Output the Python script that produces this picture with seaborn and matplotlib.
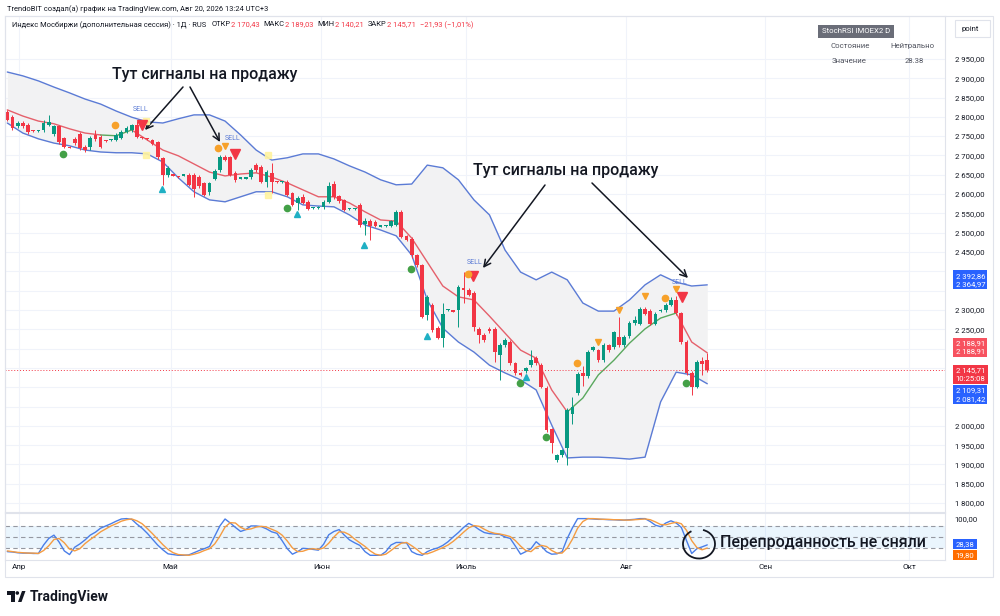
import numpy as np
import matplotlib
matplotlib.use("Agg")
import matplotlib.pyplot as plt
import seaborn as sns
from matplotlib.patches import Rectangle, Arc, Polygon, Ellipse

# --- daily candles (weekend sessions included) ---
opens = [2813, 2800, 2775, 2785, 2780, 2765, 2763, 2765, 2780, 2755,
         2775, 2745, 2722, 2742, 2755, 2722, 2722, 2752, 2748, 2738,
         2740, 2740, 2745, 2760, 2765, 2778, 2746, 2744, 2740, 2735,
         2693, 2650, 2650, 2646, 2648, 2650, 2650, 2645, 2628, 2605,
         2640, 2662, 2695, 2695, 2655, 2640, 2640, 2645, 2675, 2670,
         2632, 2655, 2632, 2630, 2632, 2603, 2578, 2592, 2580, 2564,
         2564, 2566, 2580, 2625, 2594, 2585, 2561, 2562, 2572, 2522,
         2530, 2528, 2516, 2517, 2518, 2520, 2553, 2492, 2485, 2442,
         2416, 2287, 2313, 2254, 2228, 2300, 2298, 2300, 2357, 2352,
         2345, 2252, 2236, 2250, 2252, 2183, 2209, 2217, 2162, 2136,
         2141, 2157, 2175, 2157, 2098, 1991, 1911, 1924, 1942, 2030,
         2085, 2138, 2128, 2196, 2196, 2170, 2209, 2204, 2230, 2209,
         2232, 2266, 2264, 2303, 2298, 2264, 2298, 2300, 2313, 2326,
         2292, 2217, 2138, 2100, 2167, 2170.43]
highs = [2818, 2805, 2790, 2790, 2783, 2767, 2767, 2792, 2805, 2780,
         2780, 2748, 2724, 2748, 2760, 2728, 2750, 2765, 2752, 2740,
         2743, 2758, 2765, 2776, 2782, 2790, 2748, 2746, 2742, 2738,
         2697, 2672, 2652, 2648, 2652, 2655, 2655, 2650, 2632, 2632,
         2664, 2700, 2700, 2698, 2660, 2642, 2644, 2668, 2680, 2675,
         2662, 2680, 2634, 2634, 2636, 2606, 2595, 2600, 2584, 2566,
         2568, 2584, 2632, 2635, 2598, 2588, 2563, 2565, 2578, 2537,
         2535, 2532, 2518, 2520, 2533, 2560, 2560, 2495, 2490, 2446,
         2420, 2340, 2318, 2258, 2318, 2303, 2300, 2365, 2398, 2356,
         2350, 2256, 2240, 2256, 2256, 2214, 2228, 2222, 2166, 2140,
         2153, 2196, 2180, 2162, 2103, 1995, 1928, 1941, 2045, 2075,
         2140, 2155, 2196, 2207, 2200, 2214, 2213, 2246, 2282, 2234,
         2272, 2285, 2308, 2307, 2303, 2295, 2302, 2318, 2333, 2336,
         2296, 2222, 2142, 2170, 2178, 2189.03]
lows = [2788, 2765, 2770, 2770, 2755, 2761, 2761, 2762, 2777, 2750,
        2730, 2718, 2718, 2728, 2715, 2708, 2715, 2738, 2718, 2736,
        2738, 2737, 2742, 2757, 2762, 2745, 2742, 2741, 2728, 2692,
        2624, 2645, 2647, 2642, 2646, 2620, 2593, 2615, 2595, 2598,
        2636, 2658, 2685, 2647, 2632, 2638, 2638, 2640, 2658, 2628,
        2618, 2603, 2628, 2628, 2595, 2568, 2560, 2575, 2558, 2562,
        2562, 2562, 2576, 2588, 2578, 2556, 2559, 2560, 2516, 2494,
        2482, 2514, 2514, 2515, 2515, 2517, 2486, 2478, 2434, 2410,
        2278, 2274, 2244, 2224, 2204, 2297, 2294, 2256, 2318, 2335,
        2245, 2215, 2218, 2240, 2165, 2119, 2205, 2158, 2132, 2128,
        2138, 2153, 2158, 2097, 1985, 1929, 1906, 1920, 1898, 2005,
        2080, 2103, 2125, 2193, 2166, 2166, 2192, 2200, 2205, 2205,
        2228, 2262, 2260, 2286, 2260, 2260, 2296, 2296, 2310, 2288,
        2213, 2132, 2080, 2097, 2132, 2140.21]
closes = [2792, 2770, 2785, 2775, 2760, 2763, 2765, 2785, 2787, 2775,
          2735, 2722, 2720, 2732, 2720, 2715, 2745, 2742, 2722, 2737,
          2741, 2753, 2760, 2772, 2778, 2748, 2744, 2743, 2730, 2695,
          2650, 2668, 2648, 2644, 2650, 2624, 2612, 2620, 2598, 2628,
          2660, 2695, 2688, 2650, 2637, 2640, 2642, 2662, 2662, 2632,
          2658, 2630, 2630, 2632, 2598, 2572, 2590, 2578, 2562, 2564,
          2566, 2580, 2622, 2592, 2582, 2560, 2561, 2563, 2520, 2530,
          2518, 2518, 2516, 2518, 2530, 2553, 2490, 2481, 2442, 2416,
          2282, 2334, 2248, 2228, 2290, 2300, 2296, 2359, 2352, 2339,
          2255, 2235, 2222, 2246, 2191, 2209, 2222, 2162, 2136, 2132,
          2149, 2170, 2162, 2101, 1989, 1955, 1924, 1937, 2041, 2050,
          2135, 2128, 2191, 2203, 2170, 2209, 2196, 2242, 2209, 2230,
          2267, 2274, 2303, 2290, 2264, 2290, 2300, 2313, 2326, 2292,
          2217, 2136, 2100, 2165, 2160, 2145.71]

# bands and trend line, read every 3rd bar
band_bars = list(range(0, 136, 3))
band_upper = [2916, 2906, 2893, 2877, 2862, 2846, 2833, 2815, 2799, 2787,
              2784, 2795, 2805, 2805, 2789, 2753, 2714, 2688, 2694, 2704,
              2704, 2691, 2673, 2657, 2637, 2624, 2626, 2675, 2668, 2637,
              2585, 2546, 2455, 2398, 2378, 2398, 2378, 2318, 2297, 2297,
              2326, 2365, 2391, 2372, 2362, 2365]
band_lower = [2784, 2758, 2743, 2732, 2725, 2714, 2709, 2707, 2707, 2704,
              2683, 2642, 2606, 2585, 2580, 2593, 2606, 2606, 2593, 2572,
              2569, 2567, 2546, 2520, 2507, 2492, 2442, 2326, 2253, 2217,
              2191, 2157, 2137, 2119, 2093, 2002, 1917, 1919, 1919, 1917,
              1914, 1919, 2062, 2139, 2132, 2109]
trend_line = [2818, 2802, 2789, 2782, 2769, 2758, 2753, 2751, 2766, 2740,
              2714, 2699, 2678, 2657, 2647, 2652, 2655, 2644, 2629, 2611,
              2593, 2593, 2577, 2554, 2533, 2530, 2486, 2424, 2362, 2334,
              2326, 2284, 2240, 2196, 2175, 2093, 2036, 2072, 2132, 2170,
              2214, 2251, 2279, 2292, 2217, 2189]
green_ranges = [(18, 24), (108, 129)]

# StochRSI K / D
stoch_k = [10, 9, 7, 6, 6, 5, 5, 28, 46, 55,
           36, 12, 2, 22, 31, 42, 55, 63, 74, 80,
           86, 93, 99, 100, 98, 85, 74, 60, 44, 28,
           15, 4, 2, 0, 0, 1, 7, 13, 18, 24,
           52, 80, 99, 88, 76, 65, 70, 80, 80, 78,
           72, 64, 60, 40, 18, 3, 10, 19, 18, 16,
           14, 30, 56, 65, 70, 55, 42, 34, 27, 10,
           0, 0, 0, 10, 28, 35, 35, 34, 10, 3,
           0, 10, 16, 20, 27, 37, 50, 62, 76, 87,
           80, 70, 62, 59, 58, 57, 50, 46, 25, 3,
           10, 18, 37, 25, 10, 3, 4, 10, 46, 75,
           100, 100, 100, 99, 98, 98, 97, 97, 96, 96,
           97, 98, 100, 100, 92, 82, 78, 88, 94, 88,
           76, 40, 5, 18, 23, 28.38]
stoch_d = [12, 10, 8, 7, 6, 6, 5, 13, 26, 43,
           46, 34, 17, 12, 18, 32, 43, 53, 64, 72,
           80, 86, 93, 97, 99, 94, 86, 73, 59, 44,
           29, 16, 7, 2, 1, 0, 3, 7, 13, 18,
           31, 52, 77, 89, 88, 76, 70, 72, 77, 79,
           77, 71, 65, 55, 39, 20, 10, 11, 16, 18,
           16, 20, 33, 50, 64, 63, 56, 44, 34, 24,
           12, 3, 0, 3, 13, 24, 33, 35, 26, 16,
           4, 4, 9, 15, 21, 28, 38, 50, 63, 75,
           81, 79, 71, 64, 60, 58, 55, 51, 40, 25,
           13, 10, 22, 27, 24, 13, 6, 6, 20, 44,
           74, 92, 100, 100, 99, 98, 98, 97, 97, 96,
           96, 97, 98, 99, 97, 91, 84, 83, 87, 90,
           86, 68, 40, 21, 15, 19.8]

# signal markers
sell_bars = [26.0, 43.9, 89.8, 130.1]
sell_prices = [2779, 2704, 2388, 2334]
sell_text_bars = [25.8, 43.5, 90.2, 129.7]
sell_text_prices = [2818, 2745, 2424, 2370]
orange_dot_bars = [20.8, 40.6, 88.9, 109.9, 126.9]
orange_dot_prices = [2779, 2720, 2393, 2163, 2331]
orange_tri_bars = [42, 114, 118, 123, 129]
orange_tri_prices = [2725, 2217, 2300, 2336, 2354]
green_dot_bars = [10.8, 54, 77.9, 98.9, 103.9, 130.9]
green_dot_prices = [2704, 2564, 2406, 2111, 1971, 2111]
teal_tri_bars = [29.8, 55.9, 68.8, 81, 100]
teal_tri_prices = [2613, 2549, 2468, 2233, 2126]
yellow_bars = [26.7, 26.7, 50.3, 50.3]
yellow_prices = [2789, 2701, 2701, 2598]

month_labels = ["Апр", "Май", "Июн", "Июль", "Авг", "Сен", "Окт"]
month_bars = [2.3, 31.5, 60.6, 88.5, 119.4, 146.2, 174.0]
price_ticks = list(range(1800, 2951, 50))
hidden_ticks = [2400, 2350, 2200, 2150, 2100, 2050]  # covered by price labels
last_close = 2145.71

UP, DOWN = "#089981", "#f23645"
DARK = "#131722"
BAND = "#5b7bd5"
W, H = 1000, 616


def fx(x):
    return x / W


def fy(y):
    return 1 - y / H


def fmt(v):
    return f"{v:,.2f}".replace(",", " ").replace(".", ",")


sns.set_theme(style="white")
plt.rcParams["font.family"] = ["Roboto", "DejaVu Sans"]

fig = plt.figure(figsize=(10, 6.16), dpi=100)
ax = fig.add_axes([fx(5), fy(512), fx(940), (512 - 16) / H])
ax2 = fig.add_axes([fx(5), fy(560), fx(940), (560 - 513) / H])

# ---- price pane ----
bars = np.arange(len(closes))
o, h, l, c = map(np.array, (opens, highs, lows, closes))
col = np.where(c >= o, UP, DOWN)

ax.fill_between(band_bars, band_upper, band_lower, color="#f2f2f3", lw=0, zorder=1)
sns.lineplot(x=band_bars, y=band_upper, ax=ax, color=BAND, lw=1, zorder=2)
sns.lineplot(x=band_bars, y=band_lower, ax=ax, color=BAND, lw=1, zorder=2)

# trend line: green while below price, red otherwise
tb, tl = np.array(band_bars), np.array(trend_line)
edges = [tb[0]] + [e for r in green_ranges for e in r] + [tb[-1]]
for i in range(0, len(edges), 2):
    m = (tb >= edges[i]) & (tb <= edges[i + 1])
    sns.lineplot(x=tb[m], y=tl[m], ax=ax, color="#e5606b", lw=1, zorder=2)
for a, b in green_ranges:
    m = (tb >= a) & (tb <= b)
    sns.lineplot(x=tb[m], y=tl[m], ax=ax, color="#5aa85e", lw=1, zorder=2)

ax.axhline(last_close, color=DOWN, lw=0.7, ls=(0, (1, 2)), zorder=2)

ax.vlines(bars, l, h, colors=col, lw=0.7, zorder=3)
ax.bar(bars, np.maximum(np.abs(c - o), 3), bottom=np.minimum(o, c), width=0.72,
       color=col, linewidth=0, zorder=4)

ax.plot(yellow_bars, yellow_prices, "s", color="#fff3a0", ms=5, alpha=0.9, zorder=5)
ax.plot(sell_bars, sell_prices, "v", color=DOWN, ms=7.5, zorder=6)
ax.plot(orange_dot_bars, orange_dot_prices, "o", color="#f7a12a", ms=4.5, zorder=6)
ax.plot(orange_tri_bars, orange_tri_prices, "v", color="#f7a12a", ms=4.5, zorder=6)
ax.plot(green_dot_bars, green_dot_prices, "o", color="#43a047", ms=4.5, zorder=6)
ax.plot(teal_tri_bars, teal_tri_prices, "^", color="#1fb0c4", ms=5, zorder=6)
for b, p in zip(sell_text_bars, sell_text_prices):
    ax.text(b, p, "SELL", color=BAND, fontsize=5, ha="center", va="center", zorder=6)

ax.set_xlim(-0.44, 180.85)
ax.set_ylim(1777, 3061)
ax.set_yticks(price_ticks)
ax.set_yticklabels(["" if v in hidden_ticks else fmt(v) for v in price_ticks])
ax.yaxis.tick_right()
ax.tick_params(axis="y", length=0, pad=7, labelsize=5.6, labelcolor=DARK)
ax.set_xticks(month_bars)
ax.tick_params(axis="x", length=0, labelbottom=False)
ax.grid(True, color="#f0f3fa", lw=0.8)
ax.set_axisbelow(True)
for s in ax.spines.values():
    s.set_color("#e0e3eb")
    s.set_linewidth(0.8)


def price_box(axis, y, text, fc):
    axis.text(1.0112, y, text, transform=axis.get_yaxis_transform(), ha="left",
              va="center", fontsize=5.6, color="white", linespacing=1.45,
              bbox=dict(boxstyle="square,pad=0.3", fc=fc, ec="none"),
              zorder=10, clip_on=False)


price_box(ax, 2378, "2 392,86\n2 364,97", "#2962ff")
price_box(ax, 2203, "2 188,91\n2 188,91", "#f7525f")
price_box(ax, 2133, "2 145,71\n10:25:08", "#f23645")
price_box(ax, 2081, "2 109,31\n2 081,42", "#2962ff")

# ---- StochRSI pane ----
ax2.axhspan(20, 80, color="#2196f3", alpha=0.09, lw=0)
for lvl in (80, 50, 20):
    ax2.axhline(lvl, color="#9598a1", lw=0.8, ls=(0, (4, 3)))
sns.lineplot(x=bars, y=stoch_k, ax=ax2, color="#4a7ee8", lw=1)
sns.lineplot(x=bars, y=stoch_d, ax=ax2, color="#f59c42", lw=1)
ax2.set_xlim(-0.44, 180.85)
ax2.set_ylim(-12.8, 115.3)
ax2.set_yticks([100])
ax2.set_yticklabels(["100,00"])
ax2.yaxis.tick_right()
ax2.tick_params(axis="y", length=0, pad=7, labelsize=5.6, labelcolor=DARK)
ax2.set_xticks(month_bars)
ax2.set_xticklabels(month_labels)
ax2.tick_params(axis="x", length=0, pad=3, labelsize=5.8, labelcolor=DARK)
ax2.grid(True, axis="x", color="#f0f3fa", lw=0.8)
ax2.set_axisbelow(True)
for s in ax2.spines.values():
    s.set_color("#e0e3eb")
    s.set_linewidth(0.8)
price_box(ax2, 30.5, "28,38", "#2962ff")
price_box(ax2, 1, "19,80", "#ff6d00")

# ---- frame, header, legend box ----
fig.add_artist(Rectangle((fx(5), fy(577)), fx(988), (577 - 16) / H, transform=fig.transFigure,
                         fill=False, ec="#e0e3eb", lw=0.8))

fig.text(fx(7), fy(9), "TrendoBIT создал(а) график на TradingView.com, Авг 20, 2026 13:24 UTC+3",
         fontsize=5.4, va="center", color=DARK)

# second header line: pieces laid end to end
renderer = fig.canvas.get_renderer()
header = [("Индекс Мосбиржи (дополнительная сессия) · 1Д · RUS", DARK, 5),
          ("ОТКР", DARK, 0.5), ("2 170,43", DOWN, 4),
          ("МАКС", DARK, 0.5), ("2 189,03", DOWN, 4),
          ("МИН", DARK, 0.5), ("2 140,21", DOWN, 4),
          ("ЗАКР", DARK, 0.5), ("2 145,71", DOWN, 4),
          ("−21,93 (−1,01%)", DOWN, 0)]
cursor = 12
for t, cc, gap in header:
    txt = fig.text(fx(cursor), fy(25), t, fontsize=5.4, va="center", color=cc)
    cursor = txt.get_window_extent(renderer).x1 + gap

fig.text(fx(856), fy(31), "StochRSI IMOEX2 D", ha="center", va="center", fontsize=5.6,
         color="white", bbox=dict(boxstyle="square,pad=0.45", fc="#6a6d78", ec="none"))
for x, y, t in [(850, 46, "Состояние"), (912, 46, "Нейтрально"),
                (849, 61, "Значение"), (914, 61, "28.38")]:
    fig.text(fx(x), fy(y), t, ha="center", va="center", fontsize=5.6, color="#50535e")

fig.add_artist(Rectangle((fx(955), fy(37)), fx(35), 17 / H, transform=fig.transFigure,
                         fc="white", ec="#e0e3eb", lw=0.8))
fig.text(fx(961), fy(28.5), "point", va="center", fontsize=5.6, color=DARK)

# ---- hand-drawn notes ----
for x, y in [(112, 75), (473, 170)]:
    fig.text(fx(x), fy(y), "Тут сигналы на продажу", fontsize=11.5, va="center",
             color=DARK, weight="medium")
fig.text(fx(720), fy(543), "Перепроданность не сняли", fontsize=11.5, va="center",
         color=DARK, weight="medium")
for (x0, y0), (x1, y1) in [((183, 87), (145, 130)), ((190, 87), (220, 142)),
                           ((545, 185), (483, 268)), ((592, 183), (688, 278))]:
    ax.annotate("", xy=(fx(x1), fy(y1)), xytext=(fx(x0), fy(y0)),
                xycoords="figure fraction", textcoords="figure fraction",
                arrowprops=dict(arrowstyle="->", color=DARK, lw=1.1, mutation_scale=12,
                                shrinkA=0, shrinkB=0))
fig.add_artist(Arc((fx(699), fy(544)), 32 / W, 29 / H, theta1=110, theta2=440,
                   transform=fig.transFigure, color=DARK, lw=1.3))


# ---- TradingView logo ----
def pts(seq):
    return [(fx(x), fy(y)) for x, y in seq]


fig.add_artist(Polygon(pts([(7, 591), (15, 591), (15, 602), (11, 602), (11, 595), (7, 595)]),
                       closed=True, transform=fig.transFigure, fc=DARK, ec="none"))
fig.add_artist(Ellipse((fx(17.3), fy(593)), 3.6 / W, 3.6 / H, transform=fig.transFigure,
                       fc=DARK, ec="none"))
fig.add_artist(Polygon(pts([(18, 602), (22, 591), (25.5, 591), (21.5, 602)]),
                       closed=True, transform=fig.transFigure, fc=DARK, ec="none"))
fig.text(fx(30), fy(596.5), "TradingView", fontsize=10, weight="bold", va="center", color=DARK)

fig.savefig("out.png", dpi=100, facecolor="white")
